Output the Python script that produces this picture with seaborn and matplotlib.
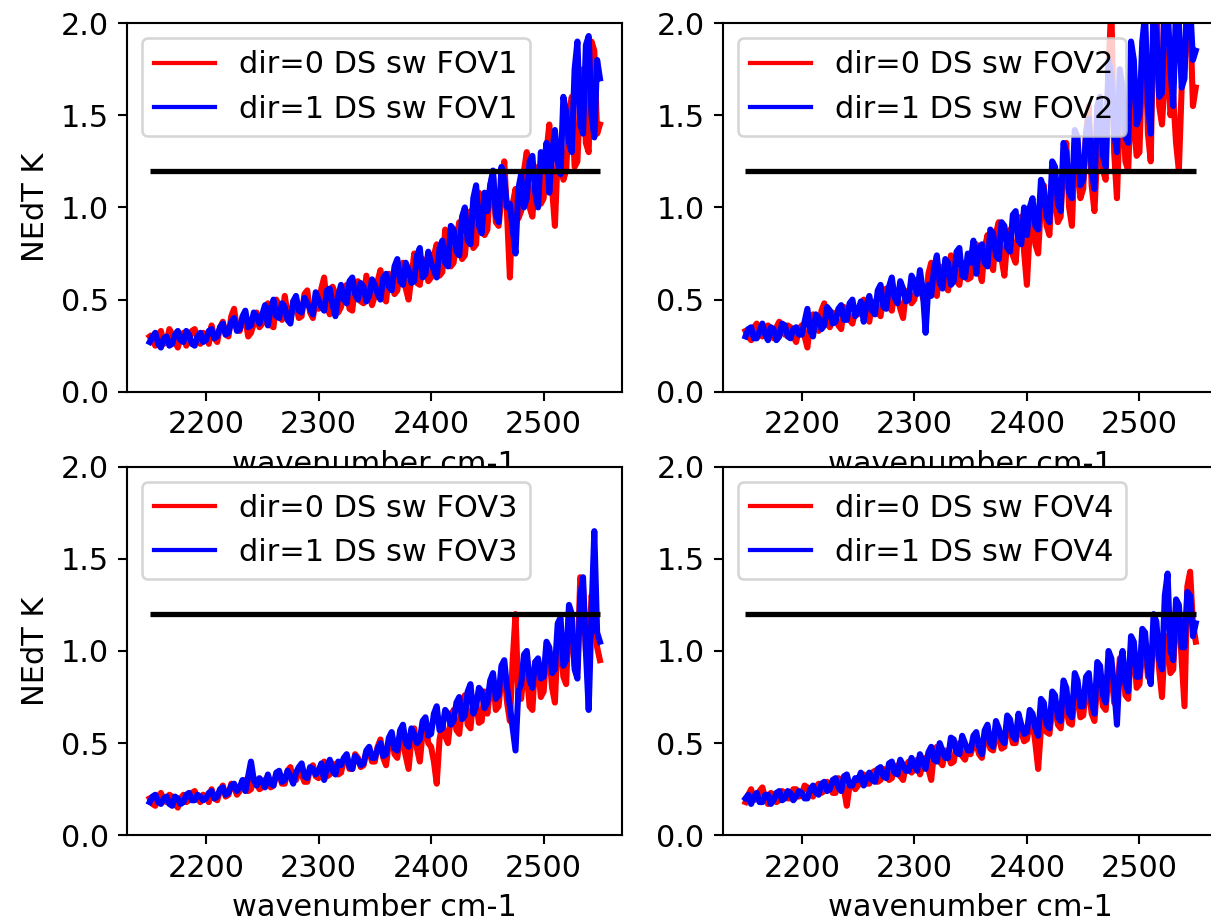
import numpy as np
import matplotlib
matplotlib.use('Agg')
import matplotlib.pyplot as plt
import seaborn as sns

# wavenumber grid of the sw band (cm-1)
wavenumber = np.arange(2150, 2550.1, 2.5)

fov_names = ['FOV1', 'FOV2', 'FOV3', 'FOV4']
threshold = 1.2

# NEdT values (K), per FOV and sweep direction
fov1_dir0 = [0.30, 0.28, 0.25, 0.31, 0.33, 0.26, 0.27, 0.34, 0.31, 0.27, 0.24, 0.30, 0.32, 0.25, 0.28, 0.33, 0.34, 0.29, 0.26, 0.32,
             0.31, 0.26, 0.36, 0.29, 0.27, 0.35, 0.38, 0.31, 0.30, 0.41, 0.45, 0.34, 0.33, 0.39, 0.40, 0.30, 0.32, 0.37, 0.43, 0.35,
             0.37, 0.44, 0.48, 0.36, 0.35, 0.50, 0.44, 0.39, 0.52, 0.42, 0.38, 0.49, 0.47, 0.40, 0.41, 0.53, 0.55, 0.43, 0.40, 0.50,
             0.45, 0.56, 0.62, 0.47, 0.42, 0.57, 0.53, 0.43, 0.46, 0.54, 0.58, 0.45, 0.44, 0.59, 0.60, 0.49, 0.48, 0.63, 0.55, 0.47,
             0.52, 0.60, 0.66, 0.51, 0.49, 0.64, 0.61, 0.53, 0.55, 0.67, 0.70, 0.56, 0.50, 0.62, 0.75, 0.59, 0.58, 0.72, 0.68, 0.60,
             0.62, 0.74, 0.80, 0.63, 0.65, 0.88, 0.85, 0.68, 0.70, 0.83, 0.92, 0.72, 0.74, 0.90, 0.98, 0.78, 0.80, 1.08, 1.05, 0.85,
             0.88, 1.12, 1.18, 0.92, 0.90, 1.05, 1.25, 0.96, 0.62, 1.02, 1.10, 0.94, 0.98, 1.20, 1.30, 1.00, 0.95, 1.15, 1.22, 1.02,
             1.05, 1.30, 1.45, 1.10, 0.90, 1.28, 1.35, 1.15, 1.20, 1.50, 1.60, 1.22, 1.25, 1.62, 1.75, 1.35, 1.30, 1.90, 1.85, 1.40,
             1.45]
fov1_dir1 = [0.27, 0.30, 0.32, 0.26, 0.24, 0.29, 0.30, 0.25, 0.26, 0.31, 0.33, 0.28, 0.27, 0.33, 0.31, 0.26, 0.25, 0.30, 0.32, 0.27,
             0.28, 0.33, 0.34, 0.29, 0.30, 0.35, 0.37, 0.31, 0.32, 0.38, 0.40, 0.33, 0.34, 0.41, 0.44, 0.35, 0.36, 0.43, 0.41, 0.37,
             0.42, 0.47, 0.36, 0.45, 0.50, 0.41, 0.40, 0.48, 0.46, 0.39, 0.37, 0.49, 0.52, 0.44, 0.43, 0.51, 0.48, 0.45, 0.42, 0.54,
             0.50, 0.46, 0.44, 0.55, 0.56, 0.47, 0.41, 0.52, 0.58, 0.50, 0.48, 0.60, 0.62, 0.53, 0.50, 0.59, 0.57, 0.49, 0.52, 0.61,
             0.58, 0.53, 0.50, 0.62, 0.64, 0.57, 0.55, 0.68, 0.72, 0.60, 0.58, 0.70, 0.66, 0.59, 0.60, 0.74, 0.78, 0.62, 0.64, 0.76,
             0.70, 0.66, 0.62, 0.78, 0.82, 0.70, 0.68, 0.90, 0.88, 0.76, 0.74, 0.95, 1.00, 0.82, 0.80, 1.05, 1.12, 0.90, 0.86, 1.08,
             0.98, 1.12, 1.20, 0.96, 0.92, 1.22, 1.15, 1.00, 1.02, 0.88, 0.75, 1.10, 1.18, 1.00, 1.05, 1.25, 1.28, 1.08, 1.00, 1.30,
             1.20, 1.35, 1.08, 1.30, 1.42, 1.25, 1.18, 1.60, 1.52, 1.35, 1.30, 1.75, 1.90, 1.45, 1.40, 1.88, 1.93, 1.50, 1.38, 1.80,
             1.70]

fov2_dir0 = [0.33, 0.30, 0.28, 0.35, 0.37, 0.31, 0.30, 0.34, 0.36, 0.32, 0.29, 0.35, 0.38, 0.33, 0.31, 0.36, 0.35, 0.30, 0.27, 0.34,
             0.36, 0.30, 0.24, 0.38, 0.42, 0.36, 0.33, 0.44, 0.48, 0.37, 0.35, 0.43, 0.40, 0.36, 0.34, 0.46, 0.45, 0.39, 0.37, 0.44,
             0.42, 0.46, 0.50, 0.41, 0.38, 0.49, 0.47, 0.43, 0.41, 0.52, 0.56, 0.46, 0.44, 0.55, 0.52, 0.45, 0.40, 0.54, 0.55, 0.48,
             0.50, 0.58, 0.62, 0.51, 0.47, 0.64, 0.70, 0.56, 0.52, 0.68, 0.66, 0.57, 0.55, 0.74, 0.72, 0.60, 0.58, 0.70, 0.68, 0.61,
             0.62, 0.74, 0.80, 0.66, 0.60, 0.78, 0.85, 0.70, 0.66, 0.86, 0.92, 0.72, 0.63, 0.82, 0.88, 0.74, 0.70, 0.90, 0.95, 0.76,
             0.58, 0.88, 0.98, 0.80, 0.75, 1.02, 1.12, 0.90, 0.85, 1.15, 1.05, 0.92, 0.95, 1.25, 1.35, 1.00, 0.90, 1.30, 1.25, 1.05,
             1.10, 1.40, 1.55, 1.12, 0.98, 1.30, 1.40, 1.20, 1.15, 1.75, 2.10, 1.30, 1.05, 1.50, 1.60, 1.25, 1.20, 1.65, 1.45, 1.28,
             1.30, 1.80, 1.95, 1.40, 1.25, 2.05, 2.20, 1.55, 1.45, 1.70, 1.85, 1.50, 1.60, 1.35, 1.20, 1.65, 1.75, 2.10, 2.05, 1.55,
             1.65]
fov2_dir1 = [0.30, 0.34, 0.35, 0.29, 0.29, 0.33, 0.37, 0.31, 0.28, 0.35, 0.34, 0.28, 0.30, 0.37, 0.36, 0.30, 0.29, 0.34, 0.35, 0.31,
             0.31, 0.38, 0.45, 0.33, 0.30, 0.42, 0.40, 0.34, 0.36, 0.46, 0.44, 0.37, 0.38, 0.45, 0.47, 0.39, 0.39, 0.48, 0.50, 0.41,
             0.44, 0.49, 0.38, 0.47, 0.52, 0.44, 0.42, 0.55, 0.58, 0.46, 0.45, 0.57, 0.62, 0.51, 0.48, 0.60, 0.56, 0.49, 0.50, 0.63,
             0.60, 0.53, 0.66, 0.55, 0.32, 0.58, 0.52, 0.67, 0.74, 0.59, 0.56, 0.72, 0.70, 0.58, 0.60, 0.76, 0.78, 0.63, 0.62, 0.75,
             0.70, 0.82, 0.64, 0.78, 0.80, 0.70, 0.68, 0.88, 0.86, 0.74, 0.72, 0.92, 0.90, 0.78, 0.76, 0.96, 0.98, 0.82, 0.80, 1.00,
             0.85, 1.00, 1.05, 0.90, 0.88, 1.15, 1.10, 0.95, 0.92, 1.25, 1.22, 1.02, 0.98, 1.35, 1.30, 1.08, 1.05, 1.42, 1.38, 1.12,
             1.15, 1.40, 1.48, 1.20, 1.10, 1.55, 1.60, 1.28, 1.22, 1.80, 1.72, 1.40, 1.30, 1.75, 1.65, 1.38, 1.35, 1.90, 1.80, 1.45,
             1.50, 1.90, 2.05, 1.55, 1.40, 2.10, 1.95, 1.60, 1.62, 2.15, 2.10, 1.75, 1.55, 2.10, 2.00, 1.65, 1.70, 2.20, 2.10, 1.80,
             1.85]

fov3_dir0 = [0.20, 0.17, 0.16, 0.21, 0.23, 0.19, 0.18, 0.22, 0.21, 0.17, 0.15, 0.20, 0.22, 0.18, 0.19, 0.23, 0.24, 0.20, 0.18, 0.22,
             0.21, 0.18, 0.25, 0.20, 0.19, 0.24, 0.27, 0.21, 0.22, 0.28, 0.26, 0.22, 0.24, 0.29, 0.30, 0.24, 0.25, 0.31, 0.28, 0.25,
             0.26, 0.30, 0.32, 0.26, 0.27, 0.33, 0.34, 0.28, 0.28, 0.35, 0.37, 0.30, 0.30, 0.36, 0.33, 0.29, 0.29, 0.36, 0.38, 0.32,
             0.31, 0.37, 0.40, 0.32, 0.33, 0.39, 0.37, 0.33, 0.34, 0.41, 0.43, 0.36, 0.36, 0.44, 0.42, 0.37, 0.38, 0.45, 0.46, 0.40,
             0.40, 0.48, 0.52, 0.42, 0.38, 0.50, 0.55, 0.44, 0.42, 0.54, 0.50, 0.43, 0.36, 0.52, 0.58, 0.47, 0.40, 0.56, 0.62, 0.50,
             0.48, 0.40, 0.28, 0.52, 0.60, 0.54, 0.50, 0.64, 0.68, 0.57, 0.55, 0.70, 0.76, 0.60, 0.58, 0.74, 0.72, 0.61, 0.62, 0.78,
             0.66, 0.80, 0.85, 0.68, 0.70, 0.86, 0.90, 0.72, 0.62, 0.95, 1.20, 0.76, 0.74, 0.90, 0.88, 0.70, 0.68, 0.94, 0.92, 0.75,
             0.78, 1.00, 0.98, 0.80, 0.72, 1.08, 1.05, 0.86, 0.82, 1.20, 1.10, 0.92, 0.90, 1.40, 1.35, 1.00, 0.95, 1.30, 1.25, 1.02,
             0.95]
fov3_dir1 = [0.18, 0.21, 0.22, 0.18, 0.17, 0.20, 0.21, 0.17, 0.16, 0.21, 0.20, 0.17, 0.18, 0.22, 0.23, 0.19, 0.19, 0.22, 0.21, 0.19,
             0.20, 0.23, 0.24, 0.20, 0.21, 0.25, 0.26, 0.22, 0.23, 0.27, 0.28, 0.24, 0.26, 0.30, 0.24, 0.32, 0.40, 0.30, 0.27, 0.31,
             0.29, 0.26, 0.33, 0.28, 0.27, 0.34, 0.35, 0.29, 0.30, 0.35, 0.32, 0.28, 0.34, 0.37, 0.39, 0.32, 0.31, 0.37, 0.36, 0.33,
             0.35, 0.39, 0.30, 0.37, 0.41, 0.35, 0.33, 0.40, 0.38, 0.42, 0.44, 0.37, 0.36, 0.43, 0.41, 0.38, 0.39, 0.46, 0.48, 0.42,
             0.42, 0.47, 0.50, 0.43, 0.44, 0.53, 0.56, 0.47, 0.46, 0.57, 0.60, 0.50, 0.48, 0.58, 0.55, 0.50, 0.52, 0.62, 0.64, 0.54,
             0.55, 0.66, 0.70, 0.57, 0.58, 0.68, 0.66, 0.60, 0.62, 0.72, 0.75, 0.63, 0.65, 0.78, 0.82, 0.66, 0.70, 0.80, 0.78, 0.69,
             0.72, 0.84, 0.88, 0.74, 0.76, 0.92, 0.95, 0.80, 0.70, 0.58, 0.46, 0.78, 0.82, 0.98, 1.00, 0.84, 0.80, 0.94, 0.96, 0.85,
             0.86, 1.05, 1.02, 0.88, 0.90, 1.15, 1.18, 0.92, 0.95, 1.25, 1.20, 0.90, 0.85, 1.30, 1.40, 1.00, 0.68, 1.20, 1.65, 1.10,
             1.05]

fov4_dir0 = [0.18, 0.22, 0.25, 0.19, 0.20, 0.24, 0.26, 0.20, 0.17, 0.23, 0.22, 0.18, 0.19, 0.24, 0.23, 0.20, 0.20, 0.25, 0.25, 0.21,
             0.22, 0.27, 0.26, 0.22, 0.21, 0.26, 0.28, 0.23, 0.24, 0.29, 0.27, 0.23, 0.23, 0.31, 0.30, 0.25, 0.16, 0.27, 0.28, 0.25,
             0.27, 0.31, 0.33, 0.28, 0.28, 0.34, 0.35, 0.29, 0.30, 0.36, 0.34, 0.30, 0.31, 0.37, 0.38, 0.32, 0.30, 0.38, 0.40, 0.34,
             0.36, 0.41, 0.33, 0.38, 0.42, 0.36, 0.30, 0.45, 0.48, 0.40, 0.38, 0.46, 0.44, 0.39, 0.40, 0.49, 0.50, 0.43, 0.41, 0.47,
             0.44, 0.49, 0.50, 0.44, 0.42, 0.52, 0.55, 0.47, 0.46, 0.56, 0.53, 0.47, 0.48, 0.59, 0.58, 0.50, 0.50, 0.60, 0.56, 0.51,
             0.52, 0.60, 0.62, 0.50, 0.36, 0.58, 0.65, 0.56, 0.55, 0.68, 0.70, 0.60, 0.58, 0.72, 0.68, 0.61, 0.60, 0.78, 0.75, 0.64,
             0.65, 0.78, 0.80, 0.66, 0.62, 0.82, 0.85, 0.70, 0.68, 0.88, 0.90, 0.72, 0.70, 0.96, 0.95, 0.76, 0.74, 1.02, 1.00, 0.80,
             0.82, 1.00, 1.05, 0.86, 0.85, 1.10, 1.12, 0.90, 0.75, 1.05, 1.08, 0.88, 0.90, 1.25, 1.20, 0.95, 0.70, 1.35, 1.43, 1.15,
             1.05]
fov4_dir1 = [0.20, 0.22, 0.17, 0.21, 0.23, 0.18, 0.18, 0.22, 0.22, 0.17, 0.19, 0.23, 0.24, 0.19, 0.20, 0.24, 0.23, 0.19, 0.21, 0.24,
             0.23, 0.20, 0.20, 0.25, 0.27, 0.23, 0.22, 0.28, 0.29, 0.24, 0.25, 0.30, 0.31, 0.26, 0.24, 0.32, 0.33, 0.27, 0.27, 0.31,
             0.30, 0.34, 0.27, 0.31, 0.34, 0.30, 0.29, 0.36, 0.37, 0.32, 0.31, 0.39, 0.40, 0.34, 0.33, 0.41, 0.38, 0.35, 0.35, 0.42,
             0.38, 0.35, 0.44, 0.40, 0.36, 0.45, 0.48, 0.41, 0.40, 0.50, 0.46, 0.42, 0.42, 0.53, 0.52, 0.45, 0.44, 0.54, 0.50, 0.46,
             0.46, 0.54, 0.56, 0.48, 0.44, 0.57, 0.60, 0.50, 0.48, 0.62, 0.58, 0.52, 0.50, 0.65, 0.63, 0.54, 0.52, 0.66, 0.60, 0.55,
             0.56, 0.68, 0.66, 0.58, 0.54, 0.74, 0.72, 0.60, 0.58, 0.78, 0.76, 0.64, 0.62, 0.84, 0.80, 0.66, 0.64, 0.88, 0.84, 0.70,
             0.70, 0.86, 0.88, 0.72, 0.66, 0.94, 0.92, 0.76, 0.72, 1.00, 0.96, 0.80, 0.60, 0.92, 1.00, 0.82, 0.78, 1.08, 1.05, 0.86,
             0.86, 1.12, 1.10, 0.90, 0.82, 1.20, 1.16, 0.95, 0.90, 1.30, 1.42, 1.00, 0.95, 1.28, 1.25, 1.02, 1.02, 1.32, 1.30, 1.08,
             1.15]

dir0 = [fov1_dir0, fov2_dir0, fov3_dir0, fov4_dir0]
dir1 = [fov1_dir1, fov2_dir1, fov3_dir1, fov4_dir1]

plt.rcParams['font.size'] = 11.5

fig = plt.figure(figsize=(1211 / 190, 924 / 190), dpi=190)
positions = [[0.105, 0.576, 0.409, 0.399],
             [0.597, 0.576, 0.409, 0.399],
             [0.105, 0.096, 0.409, 0.399],
             [0.597, 0.096, 0.409, 0.399]]

for i, name in enumerate(fov_names):
    ax = fig.add_axes(positions[i])
    sns.lineplot(x=wavenumber, y=dir0[i], color='red', lw=2.3,
                 label='dir=0 DS sw ' + name, ax=ax)
    sns.lineplot(x=wavenumber, y=dir1[i], color='blue', lw=2.3,
                 label='dir=1 DS sw ' + name, ax=ax)
    ax.hlines(threshold, wavenumber[0], wavenumber[-1], color='black', lw=2)
    ax.set_ylim(0, 2)
    ax.set_xlim(2130, 2570)
    ax.set_xticks([2200, 2300, 2400, 2500])
    ax.set_xlabel('wavenumber cm-1')
    if i % 2 == 0:
        ax.set_ylabel('NEdT K')
    leg = ax.legend(loc='upper left')
    # keep legend handles at the normal line width
    for handle in leg.get_lines():
        handle.set_linewidth(1.6)

fig.savefig('out.png', dpi=190)
